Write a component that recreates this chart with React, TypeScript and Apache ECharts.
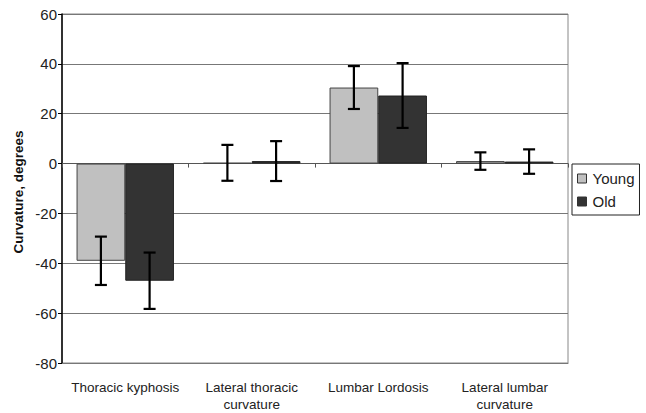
import React, { useEffect, useRef } from "react";
import * as echarts from "echarts";

const categories = ["Thoracic kyphosis", "Lateral thoracic\ncurvature", "Lumbar Lordosis", "Lateral lumbar\ncurvature"];
const youngValues = [-39, 0.3, 30.5, 1];
const youngErrors = [9.7, 7.2, 8.6, 3.5];
const oldValues = [-47, 1, 27.3, 0.8];
const oldErrors = [11.3, 8, 13, 4.9];
const yTicks = { min: -80, max: 60, interval: 20 };

const FONT = "Liberation Sans, Arial, sans-serif";

export default function App() {
  const ref = useRef<HTMLDivElement>(null);
  useEffect(() => {
    const chart = echarts.init(ref.current!, null, { renderer: "svg" });
    const errData: number[][] = [];
    categories.forEach((_, i) => {
      errData.push([i, youngValues[i], youngErrors[i], 0]);
      errData.push([i, oldValues[i], oldErrors[i], 1]);
    });
    const catGapFrac = 0.23;
    chart.setOption({
      animation: false,
      textStyle: { fontFamily: FONT },
      grid: { left: 62, right: 78, top: 14, bottom: 44, show: true, borderColor: "#888", borderWidth: 1 },
      xAxis: [
        {
          type: "category",
          data: categories,
          position: "bottom",
          axisLine: { onZero: false, lineStyle: { color: "#777" } },
          axisTick: { show: false },
          axisLabel: { color: "#222", fontSize: 13.5, margin: 16, lineHeight: 17, fontFamily: FONT, interval: 0 },
        },
        {
          type: "category",
          data: categories,
          position: "top",
          axisLine: { onZero: true, lineStyle: { color: "#555" } },
          axisTick: { show: true, inside: true, length: 4, lineStyle: { color: "#555" } },
          axisLabel: { show: false },
        },
      ],
      yAxis: {
        type: "value",
        min: yTicks.min,
        max: yTicks.max,
        interval: yTicks.interval,
        axisLine: { show: true, lineStyle: { color: "#000", width: 1.5 } },
        axisTick: { show: true, length: 4, lineStyle: { color: "#000" } },
        axisLabel: { color: "#222", fontSize: 15, margin: 5, fontFamily: FONT },
        splitLine: { lineStyle: { color: "#777", width: 1 } },
      },
      legend: {
        orient: "vertical",
        left: 572,
        top: 164,
        borderColor: "#222",
        borderWidth: 1,
        padding: [7, 5, 6, 5],
        itemWidth: 9,
        itemHeight: 9,
        itemGap: 8,
        icon: "rect",
        itemStyle: { borderColor: "#333", borderWidth: 1 },
        textStyle: { fontSize: 15, color: "#222", fontFamily: FONT, padding: [0, 0, 0, 1] },
        data: ["Young", "Old"],
      },
      graphic: [
        {
          type: "text",
          x: 18,
          y: 192,
          rotation: Math.PI / 2,
          style: {
            text: "Curvature, degrees",
            fontSize: 13.5,
            fontWeight: "bold",
            fontFamily: FONT,
            fill: "#111",
            align: "center",
            verticalAlign: "middle",
          },
        },
      ],
      series: [
        {
          name: "Young",
          type: "bar",
          data: youngValues,
          barGap: "0%",
          barCategoryGap: catGapFrac * 100 + "%",
          itemStyle: { color: "#c0c0c0", borderColor: "#444", borderWidth: 1 },
        },
        {
          name: "Old",
          type: "bar",
          data: oldValues,
          itemStyle: { color: "#333333", borderColor: "#222", borderWidth: 1 },
        },
        {
          type: "custom",
          data: errData,
          z: 10,
          silent: true,
          renderItem: (params: any, api: any) => {
            const idx = api.value(0);
            const v = api.value(1);
            const e = api.value(2);
            const which = api.value(3);
            const center = api.coord([idx, v]);
            const bandW = api.size([1, 0])[0];
            const barW = (bandW * (1 - catGapFrac)) / 2;
            const x = center[0] + (which === 0 ? -barW / 2 : barW / 2);
            const top = api.coord([idx, v + e])[1];
            const bot = api.coord([idx, v - e])[1];
            const cap = 6;
            const style = { stroke: "#000", lineWidth: 2.2 };
            return {
              type: "group",
              children: [
                { type: "line", shape: { x1: x, y1: top, x2: x, y2: bot }, style },
                { type: "line", shape: { x1: x - cap, y1: top, x2: x + cap, y2: top }, style },
                { type: "line", shape: { x1: x - cap, y1: bot, x2: x + cap, y2: bot }, style },
              ],
            };
          },
        },
      ],
    });
    return () => chart.dispose();
  }, []);
  return <div ref={ref} style={{ width: 646, height: 413, position: "absolute", left: 0, top: 0 }} />;
}
